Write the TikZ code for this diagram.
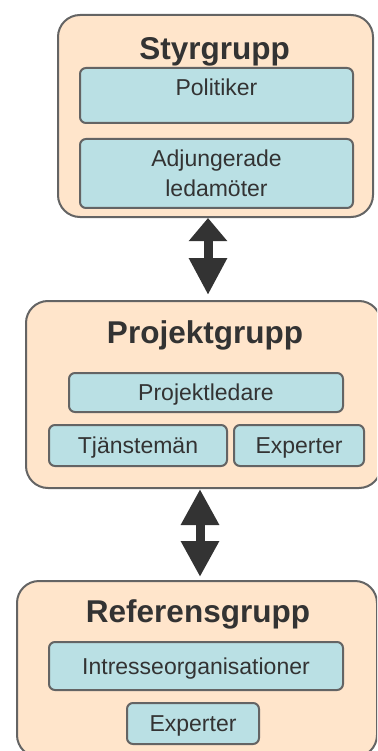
\documentclass[tikz,border=0pt]{standalone}
\usepackage{fontspec}
\setmainfont{Liberation Sans}
\usetikzlibrary{arrows.meta,calc}
\definecolor{peach}{HTML}{FFE5CB}
\definecolor{paleblue}{HTML}{BAE0E4}
\definecolor{edgegrey}{HTML}{646464}
\definecolor{ink}{HTML}{333333}
\begin{document}
\begin{tikzpicture}[x=1pt,y=-1pt,
  outerbox/.style={draw=edgegrey, line width=2pt, fill=peach, rounded corners=22pt, inner sep=0pt, anchor=north west},
  innerbox/.style={draw=edgegrey, line width=2pt, fill=paleblue, rounded corners=6pt, inner sep=0pt, anchor=north west,
    text=ink, font=\fontsize{23}{30}\selectfont, align=center},
  onelabel/.style={text height=16.5pt, text depth=0pt},
  grouptitle/.style={text=ink, font=\fontsize{31.5}{36}\selectfont\bfseries, anchor=base, inner sep=0pt},
  dblarrow/.style={draw=ink, line width=9pt}
]
\useasboundingbox (0,0) rectangle (377,751);
\clip (0,0) rectangle (377,751);

% Styrgrupp
\node[outerbox, minimum width=315pt, minimum height=202pt] (sty) at (57,14) {};
\node[grouptitle] (styt) at (214.5,60) {Styrgrupp};
\node[innerbox, minimum width=273pt, minimum height=55pt, text height=16pt, text depth=16pt] (pol) at (79,67) {Politiker};
\node[innerbox, minimum width=273pt, minimum height=69pt] (adj) at (79,138) {Adjungerade\\ledamöter};

% Projektgrupp
\node[outerbox, minimum width=355pt, minimum height=187pt] (pro) at (25,300) {};
\node[grouptitle] (prot) at (205,343) {Projektgrupp};
\node[innerbox, onelabel, minimum width=274pt, minimum height=39pt] (pl) at (68,372) {Projektledare};
\node[innerbox, onelabel, minimum width=178pt, minimum height=41pt] (tj) at (48,424) {Tjänstemän};
\node[innerbox, onelabel, minimum width=130pt, minimum height=41pt] (exa) at (233,424) {Experter};

% Referensgrupp
\node[outerbox, minimum width=360pt, minimum height=176pt] (ref) at (16,580) {};
\node[grouptitle] (reft) at (198,622) {Referensgrupp};
\node[innerbox, onelabel, minimum width=294pt, minimum height=48pt] (io) at (48,641) {Intresseorganisationer};
\node[innerbox, onelabel, minimum width=132pt, minimum height=41pt] (exb) at (126,702) {Experter};

% arrows
\coordinate (a1) at (208,0);
\coordinate (a2) at (200,0);
\draw[dblarrow, {Triangle[width=37pt,length=23pt]}-{Triangle[width=36pt,length=37pt]}]
  (sty.south -| a1) -- ($(pro.north -| a1)+(0,-5)$);
\draw[dblarrow, {Triangle[width=36pt,length=36pt]}-{Triangle[width=36pt,length=36pt]}]
  (pro.south -| a2) -- ($(ref.north -| a2)+(0,-3)$);
\end{tikzpicture}
\end{document}
